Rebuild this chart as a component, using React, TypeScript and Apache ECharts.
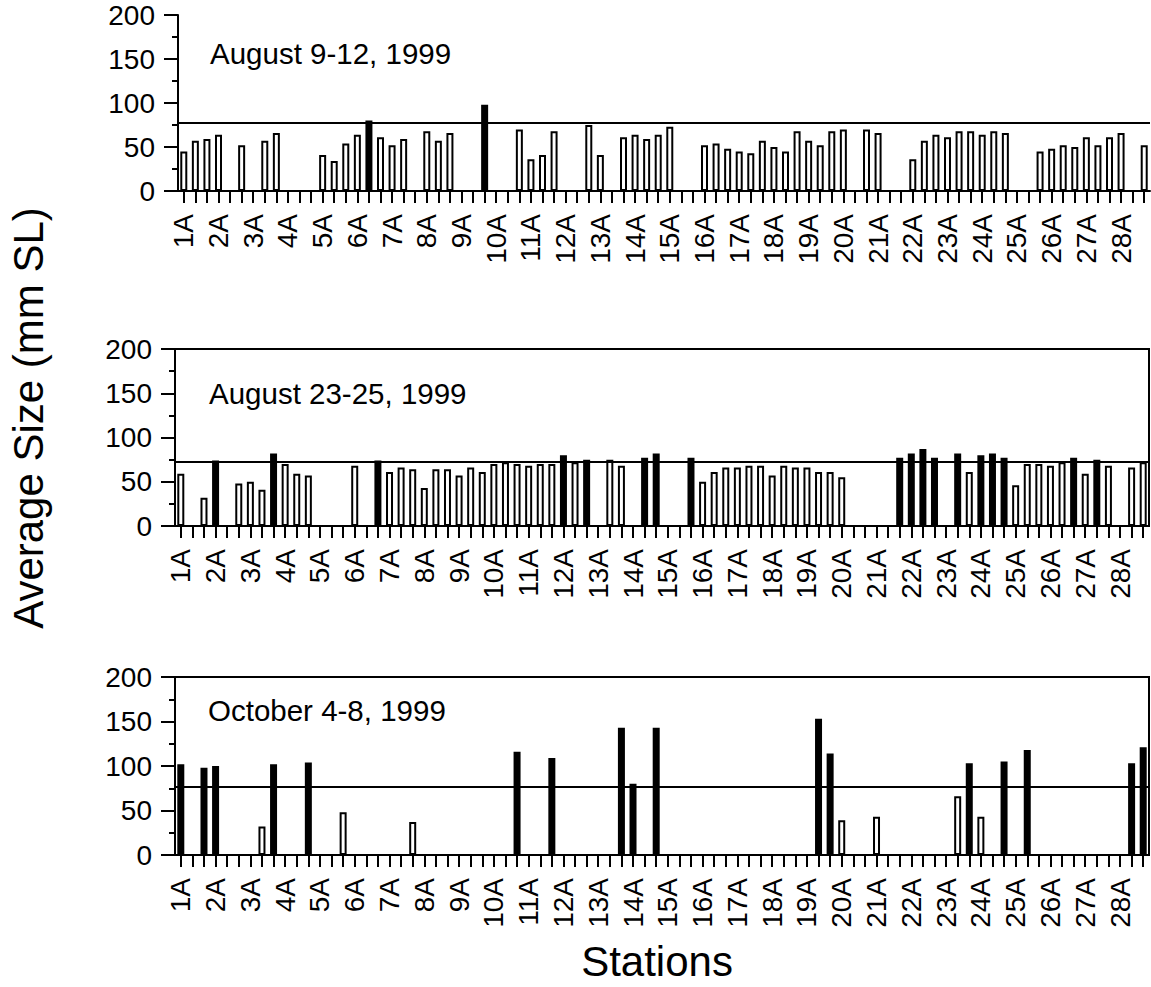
import React, { useEffect, useRef } from "react";
import * as echarts from "echarts";

// Station categories: 28 stations, three sampling sites each (only "A" sites are labelled)
const stationNumbers = Array.from({ length: 28 }, (_, i) => i + 1);
const siteLetters = ["A", "B", "C"];
const categories: string[] = stationNumbers.flatMap((n) => siteLetters.map((s) => `${n}${s}`));

const yTicks = { min: 0, max: 200, interval: 50 };

const panelTitles = ["August 9-12, 1999", "August 23-25, 1999", "October 4-8, 1999"];

// August 9-12 (null = no sample)
const aug9Values: (number | null)[] = [
  45, 57, 59, 64, null, 52, null, 57, 66, null, null, null,
  41, 34, 54, 64, 80, 61, 52, 59, null, 68, 57, 66,
  null, null, 98, null, null, 70, 36, 41, 68, null, null, 75,
  41, null, 61, 64, 59, 64, 73, null, null, 52, 54, 48,
  45, 43, 57, 50, 45, 68, 57, 52, 68, 70, null, 70,
  66, null, null, 36, 57, 64, 61, 68, 68, 64, 68, 66,
  null, null, 45, 48, 52, 50, 61, 52, 61, 66, null, 52,
];
const aug9Filled = [16, 26];
const aug9Reference = 78;

// August 23-25
const aug23Values: (number | null)[] = [
  59, 0, 32, 74, 0, 48, 50, 41, 82, 70, 59, 57,
  0, 0, 0, 68, 0, 74, 61, 66, 64, 43, 64, 64,
  57, 66, 61, 70, 72, 70, 68, 70, 70, 80, 72, 75,
  0, 75, 68, 0, 77, 82, 0, 0, 77, 50, 61, 66,
  66, 68, 68, 57, 68, 66, 66, 61, 61, 55, 0, 0,
  0, 0, 77, 82, 87, 77, 0, 82, 61, 80, 82, 77,
  46, 70, 70, 68, 72, 77, 59, 75, 68, 0, 66, 72,
];
const aug23Filled = [3, 8, 17, 33, 35, 40, 41, 44, 62, 63, 64, 65, 67, 69, 70, 71, 77, 79];
const aug23Reference = 73;

// October 4-8
const oct4Values: (number | null)[] = [
  102, 0, 98, 100, 0, 0, 0, 32, 102, 0, 0, 104,
  0, 0, 48, 0, 0, 0, 0, 0, 37, 0, 0, 0,
  0, 0, 0, 0, 0, 116, 0, 0, 109, 0, 0, 0,
  0, 0, 143, 80, 0, 143, 0, 0, 0, 0, 0, 0,
  0, 0, 0, 0, 0, 0, 0, 153, 114, 39, 0, 0,
  43, 0, 0, 0, 0, 0, 0, 66, 103, 43, 0, 105,
  0, 118, 0, 0, 0, 0, 0, 0, 0, 0, 103, 121,
];
const oct4Filled = [0, 2, 3, 8, 11, 29, 32, 38, 39, 41, 55, 56, 68, 71, 73, 82, 83];
const oct4Reference = 77;

const panels = [
  { values: aug9Values, filled: aug9Filled, ref: aug9Reference, title: panelTitles[0] },
  { values: aug23Values, filled: aug23Filled, ref: aug23Reference, title: panelTitles[1] },
  { values: oct4Values, filled: oct4Filled, ref: oct4Reference, title: panelTitles[2] },
];

const FONT = "'Liberation Sans', Arial, Helvetica, sans-serif";

// layout (pixels)
const gridLayout = [
  { left: 178, right: 1, top: 15, height: 176, box: false, titleX: 210, titleY: 53 },
  { left: 175, right: 2, top: 349, height: 177, box: true, titleX: 209, titleY: 393 },
  { left: 175, right: 2, top: 677, height: 178, box: true, titleX: 208, titleY: 710 },
];

export default function App() {
  const ref = useRef<HTMLDivElement>(null);

  useEffect(() => {
    if (!ref.current) return;
    const chart = echarts.init(ref.current, undefined, { renderer: "svg" });

    const grids: any[] = [];
    const xAxes: any[] = [];
    const yAxes: any[] = [];
    const series: any[] = [];
    const graphics: any[] = [];

    panels.forEach((p, k) => {
      const g = gridLayout[k];
      grids.push({
        left: g.left,
        right: g.right,
        top: g.top,
        height: g.height,
        show: g.box,
        borderColor: "#000",
        borderWidth: 2,
        backgroundColor: "transparent",
        containLabel: false,
      });
      // labelled axis with ticks, slightly detached below the baseline
      xAxes.push({
        type: "category",
        gridIndex: k,
        data: categories,
        position: "bottom",
        offset: 4,
        axisLine: { show: false },
        axisTick: {
          show: true,
          interval: 0,
          alignWithLabel: true,
          length: 12,
          lineStyle: { color: "#000", width: 2 },
        },
        axisLabel: {
          interval: 2,
          rotate: 90,
          margin: 19,
          fontSize: 28,
          color: "#000",
          fontFamily: FONT,
        },
        splitLine: { show: false },
      });
      // baseline axis
      xAxes.push({
        type: "category",
        gridIndex: k,
        data: categories,
        position: "bottom",
        axisLine: { show: true, lineStyle: { color: "#000", width: 2 } },
        axisTick: { show: false },
        axisLabel: { show: false },
        splitLine: { show: false },
      });
      yAxes.push({
        type: "value",
        gridIndex: k,
        min: yTicks.min,
        max: yTicks.max,
        interval: yTicks.interval,
        axisLine: { show: true, lineStyle: { color: "#000", width: 2 } },
        axisTick: { show: true, length: 14, lineStyle: { color: "#000", width: 2 } },
        minorTick: { show: true, splitNumber: 2, length: 6, lineStyle: { color: "#000", width: 2 } },
        minorSplitLine: { show: false },
        splitLine: { show: false },
        axisLabel: { fontSize: 28, color: "#000", margin: 23, fontFamily: FONT },
      });
      series.push({
        type: "bar",
        xAxisIndex: 2 * k,
        yAxisIndex: k,
        barWidth: 7,
        data: p.values.map((v, i) => ({
          value: v,
          itemStyle: { color: p.filled.includes(i) ? "#000" : "#fff" },
        })),
        itemStyle: { borderColor: "#000", borderWidth: 2 },
        markLine: {
          silent: true,
          symbol: "none",
          label: { show: false },
          lineStyle: { color: "#000", width: 2, type: "solid" },
          data: [{ yAxis: p.ref }],
        },
      });
      graphics.push({
        type: "text",
        x: g.titleX,
        y: g.titleY,
        style: {
          text: p.title,
          fontSize: 29.5,
          fontFamily: FONT,
          fill: "#000",
          textAlign: "left",
          textVerticalAlign: "middle",
        },
      });
    });

    graphics.push({
      type: "text",
      x: 28,
      y: 418,
      rotation: Math.PI / 2,
      style: {
        text: "Average Size (mm SL)",
        fontSize: 42,
        fontFamily: FONT,
        fill: "#000",
        textAlign: "center",
        textVerticalAlign: "middle",
      },
    });
    graphics.push({
      type: "text",
      x: 657,
      y: 961,
      style: {
        text: "Stations",
        fontSize: 42,
        fontFamily: FONT,
        fill: "#000",
        textAlign: "center",
        textVerticalAlign: "middle",
      },
    });

    chart.setOption({
      animation: false,
      backgroundColor: "#fff",
      grid: grids,
      xAxis: xAxes,
      yAxis: yAxes,
      series,
      graphic: graphics,
    });

    return () => chart.dispose();
  }, []);

  return (
    <div
      ref={ref}
      style={{ position: "fixed", left: 0, top: 0, width: 1151, height: 987, background: "#fff" }}
    />
  );
}
